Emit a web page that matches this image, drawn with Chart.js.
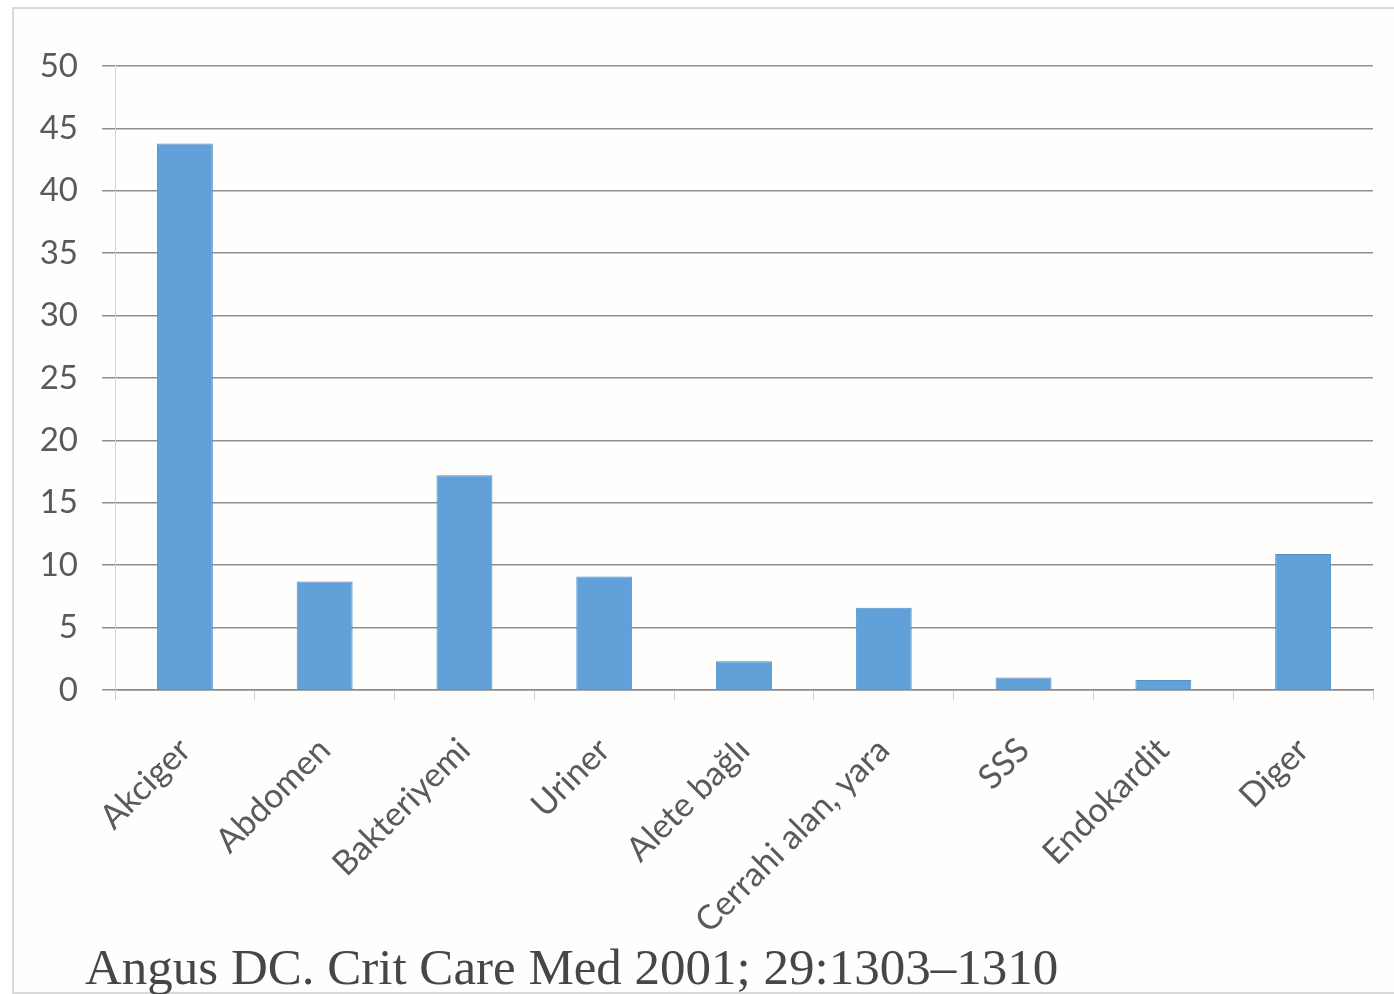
<!DOCTYPE html>
<html>
<head>
<meta charset="utf-8">
<script src="https://cdn.jsdelivr.net/npm/chart.js@4/dist/chart.umd.min.js"></script>
<style>
  html, body { margin: 0; padding: 0; background: #fff; }
  #frame {
    position: absolute; left: 12px; top: 7px; width: 1400px; height: 983px;
    border: 2px solid #d9d9d9; background: #fefefc;
  }
  #wrap { position: absolute; left: 0; top: 0; width: 1394px; height: 994px; }
  #source {
    position: absolute; left: 85px; top: 937px;
    font-family: "Liberation Serif", "DejaVu Serif", serif;
    font-size: 51px; line-height: 60px; color: #464646; white-space: nowrap;
  }
</style>
</head>
<body>
<div id="frame"></div>
<div id="wrap"><canvas id="chart-bar"></canvas></div>
<div id="source">Angus DC. Crit Care Med 2001; 29:1303–1310</div>
<script>
// infection sites, share of cases (%)
const categories = ["Akciger", "Abdomen", "Bakteriyemi", "Uriner", "Alete bağlı", "Cerrahi alan, yara", "SSS", "Endokardit", "Diger"];
const values = [43.8, 8.7, 17.2, 9.1, 2.3, 6.6, 1.0, 0.8, 10.9];
const yMax = 50;
const yStep = 5;

const tickFont = { family: "Lato, 'Open Sans', sans-serif", size: 33 };
const labelFont = { family: "Lato, 'Open Sans', sans-serif", size: 34 };

new Chart(document.getElementById("chart-bar"), {
  type: "bar",
  data: {
    labels: categories,
    datasets: [{
      data: values,
      backgroundColor: "#62a0d9",
      borderColor: "#5590c9",
      borderWidth: 1,
      categoryPercentage: 1,
      barPercentage: 0.4
    }]
  },
  options: {
    responsive: true,
    maintainAspectRatio: false,
    animation: false,
    layout: { padding: { left: 12, top: 66, right: 21, bottom: 0 } },
    plugins: { legend: { display: false }, tooltip: { enabled: false } },
    scales: {
      x: {
        afterFit: s => { s.height = 304; },
        grid: { drawOnChartArea: false, tickLength: 10, color: "#cfcfcf" },
        border: { color: "#8a8a8a", width: 1.5 },
        ticks: { font: labelFont, color: "#5a5a5a", minRotation: 45, maxRotation: 45, autoSkip: false, padding: 30 }
      },
      y: {
        min: 0,
        max: yMax,
        afterFit: s => { s.width = 103; },
        grid: { color: "#8f8f8f", lineWidth: 1.5, tickLength: 13 },
        border: { color: "#d4d4d4", width: 1 },
        ticks: { stepSize: yStep, font: tickFont, color: "#5a5a5a", padding: 24 }
      }
    }
  }
});
</script>
</body>
</html>
